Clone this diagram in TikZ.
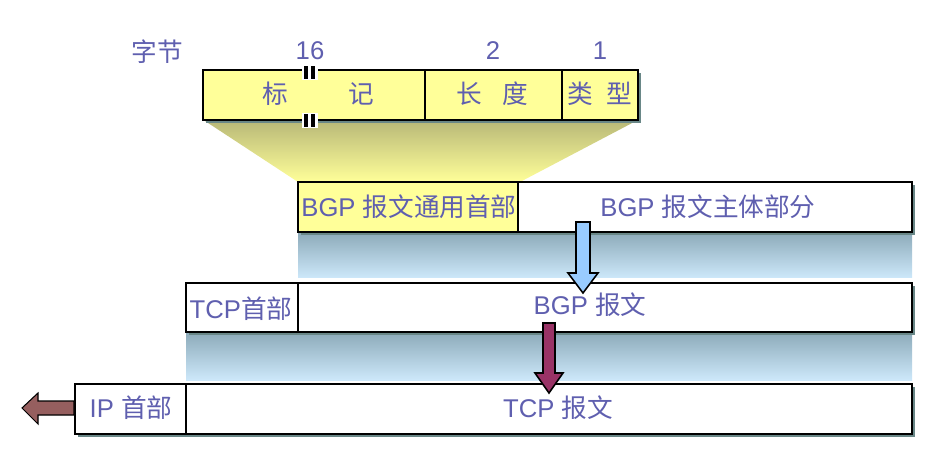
\documentclass[tikz,border=0pt]{standalone}
\usepackage{fontspec}
\setmainfont{Liberation Sans}
\newfontfamily\cjk{Noto Sans CJK SC}
\newcommand{\zh}[1]{{\cjk #1}}

\definecolor{txtblue}{RGB}{95,95,175}
\definecolor{boxyellow}{RGB}{255,255,153}
\definecolor{shadowgray}{RGB}{105,135,135}
\definecolor{bandtop}{RGB}{140,170,185}
\definecolor{bandbot}{RGB}{205,232,250}
\definecolor{fantop}{RGB}{185,185,120}
\definecolor{arrowblue}{RGB}{153,204,255}
\definecolor{arrowred}{RGB}{153,51,102}
\definecolor{arrowbrown}{RGB}{150,95,95}

\begin{document}
\begin{tikzpicture}[x=0.02cm, y=-0.02cm,
    lbl/.style={text=txtblue, font=\fontsize{14.6}{17}\selectfont, inner sep=0pt},
    field/.style={draw=black, line width=1.2pt},
    blockarrow/.style={draw=black, line width=0.9pt, line join=miter}]

     \useasboundingbox (0,0) rectangle (936,469);

     % fan and bands
     \shade[top color=fantop, bottom color=boxyellow] (205,121) -- (636,121) -- (520,182) -- (298,182) -- cycle;
     \shade[top color=bandtop, bottom color=bandbot] (298,232) rectangle (912,278);
     \shade[top color=bandtop, bottom color=bandbot] (186,332) rectangle (912,380);

     % shadows
     \fill[shadowgray] (206,73) rectangle (641,123);
     \fill[shadowgray] (301,185) rectangle (915,235);
     \fill[shadowgray] (189,286) rectangle (915,335);
     \fill[shadowgray] (78,387) rectangle (915,437);

     % header
     \node[lbl] (bytes) at (157,52) {\zh{字节}};
     \node[lbl] (n16) at (310,51) {16};
     \node[lbl] (n2) at (493,51) {2};
     \node[lbl] (n1) at (600,51) {1};

     \draw[field, fill=boxyellow] (203,70) rectangle (638,120);
     \draw[field] (425,70) -- (425,120);
     \draw[field] (562,70) -- (562,120);

     \node[lbl] (mark1) at (275,94) {\zh{标}};
     \node[lbl] (mark2) at (361,94) {\zh{记}};
     \node[lbl] (len) at (492,94) {\zh{长\hspace{0.8em}度}};
     \node[lbl] (type) at (600,94) {\zh{类\hspace{0.5em}型}};

     % break marks
     \foreach \y in {65,113} {
       \fill[white] (302,\y) rectangle (318,\y+15);
       \fill[black] (304,\y+1) rectangle (308,\y+14);
       \fill[black] (311,\y+1) rectangle (315,\y+14);
     }

     % BGP
     \draw[field, fill=boxyellow] (298,182) rectangle (518,232);
     \draw[field, fill=white] (518,182) rectangle (912,232);
     \node[lbl] (bgphdr) at (409,207) {BGP \zh{报文通用首部}};
     \node[lbl] (bgpbody) at (708,207) {BGP \zh{报文主体部分}};

     % TCP
     \draw[field, fill=white] (186,283) rectangle (298,332);
     \draw[field, fill=white] (298,283) rectangle (912,332);
     \node[lbl] (tcphdr) at (241,309) {TCP\zh{首部}};
     \node[lbl] (bgpmsg) at (590,305) {BGP \zh{报文}};

     % IP
     \draw[field, fill=white] (75,384) rectangle (186,434);
     \draw[field, fill=white] (186,384) rectangle (912,434);
     \node[lbl] (iphdr) at (131,408) {IP \zh{首部}};
     \node[lbl] (tcpmsg) at (558,408) {TCP \zh{报文}};

     % arrows
     \draw[blockarrow, fill=arrowblue] (576,222) -- (590,222) -- (590,273) -- (598,273)
          -- (583,293) -- (568,273) -- (576,273) -- cycle;
     \draw[blockarrow, fill=arrowred] (543,323) -- (555,323) -- (555,373) -- (563,373)
          -- (549,393) -- (535,373) -- (543,373) -- cycle;
     \draw[blockarrow, fill=arrowbrown, line width=0.6pt] (74,401) -- (38,401) -- (38,393)
          -- (22,408) -- (38,424) -- (38,415) -- (74,415) -- cycle;

\end{tikzpicture}
\end{document}
